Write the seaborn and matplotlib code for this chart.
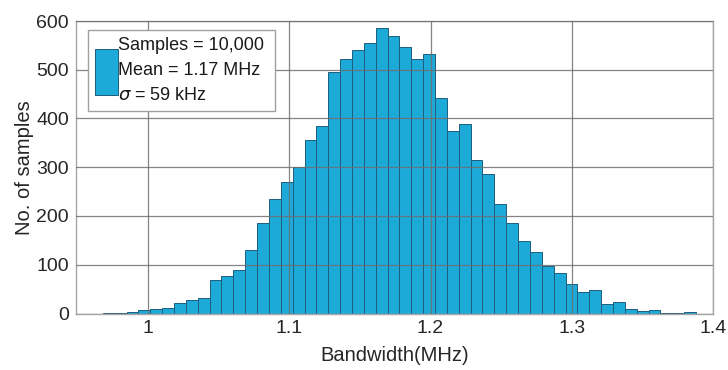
import numpy as np
import pandas as pd
import matplotlib
matplotlib.use("Agg")
import matplotlib.pyplot as plt
import seaborn as sns

# ---- data ----
bin_min = 0.968
bin_max = 1.388
n_bins = 50
counts = [1, 1, 3, 7, 9, 11, 21, 27, 32, 68,
          77, 90, 130, 185, 235, 270, 300, 355, 385, 495,
          523, 540, 555, 585, 570, 547, 522, 533, 443, 374,
          388, 314, 286, 224, 185, 148, 126, 97, 83, 61,
          45, 49, 20, 23, 9, 6, 7, 1, 2, 3]
x_ticks = [1.0, 1.1, 1.2, 1.3, 1.4]
x_ticklabels = ["1", "1.1", "1.2", "1.3", "1.4"]
y_ticks = [0, 100, 200, 300, 400, 500, 600]
legend_label = "Samples = 10,000\nMean = 1.17 MHz\n$\\sigma$ = 59 kHz"

edges = np.linspace(bin_min, bin_max, n_bins + 1)
centers = (edges[:-1] + edges[1:]) / 2
df = pd.DataFrame({"bw": centers, "n": counts})

sns.set_theme(style="white")
plt.rcParams['font.family'] = ['Liberation Sans', 'DejaVu Sans']

fig = plt.figure(figsize=(7.28, 3.70), dpi=100)
ax = fig.add_axes([76 / 728, 1 - 313.5 / 370, 637 / 728, 292.5 / 370])

sns.histplot(data=df, x="bw", weights="n", bins=n_bins, binrange=(bin_min, bin_max),
             ax=ax, color="#1eaad9", alpha=1.0, edgecolor="#1d5d7e", linewidth=0.7,
             label=legend_label)

ax.set_xlim(0.949, 1.4)
ax.set_ylim(0, 600)
ax.set_xticks(x_ticks)
ax.set_xticklabels(x_ticklabels)
ax.set_yticks(y_ticks)
ax.grid(True, color="#6e6e6e", linewidth=0.9, alpha=0.85)
ax.set_axisbelow(False)
for sp in ax.spines.values():
    sp.set_color("#a6a6a6")
    sp.set_linewidth(1.0)
    sp.set_visible(True)
ax.tick_params(axis="both", length=0, labelsize=14, colors="#262626", pad=5)
ax.set_xlabel("Bandwidth(MHz)", fontsize=14.5, color="#262626", labelpad=6)
ax.set_ylabel("No. of samples", fontsize=14.5, color="#262626", labelpad=2)

leg = ax.legend(loc="upper left", bbox_to_anchor=(0.0188, 0.679, 0.2936, 0.29),
                mode="expand", borderaxespad=0,
                fontsize=13, handlelength=1.25, handleheight=3.6, handletextpad=0.0,
                fancybox=False, framealpha=1, edgecolor="#a0a0a0",
                borderpad=0.4)
leg.get_frame().set_linewidth(1.0)
for t in leg.get_texts():
    t.set_linespacing(1.6)
    t.set_color("#1a1a1a")

fig.savefig("out.png", dpi=100)
